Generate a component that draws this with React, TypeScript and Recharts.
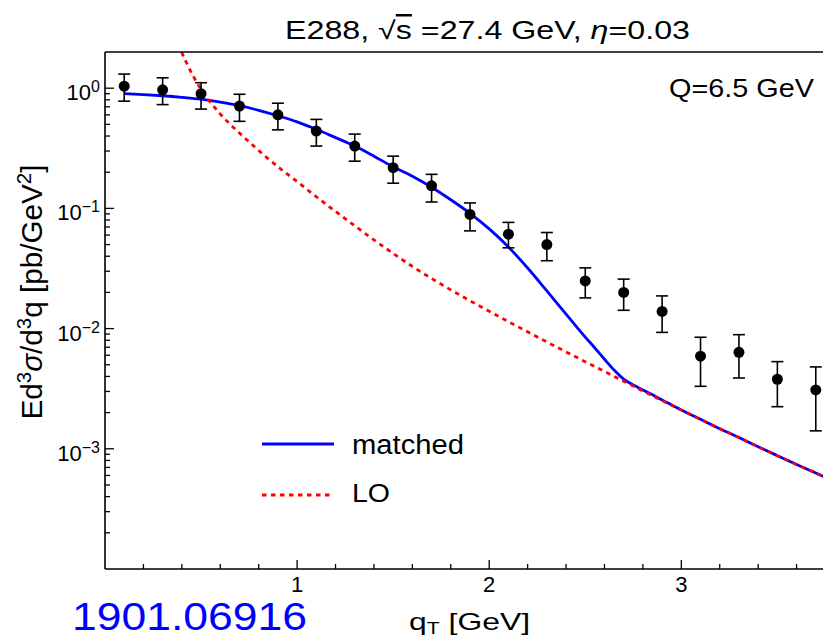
import { ComposedChart, Line, Scatter, ErrorBar, XAxis, YAxis } from 'recharts';

const FONT = '"Liberation Sans", Arial, Helvetica, sans-serif';

// E288 data points (qT in GeV)
const dataQ = [0.1, 0.3, 0.5, 0.7, 0.9, 1.1, 1.3, 1.5, 1.7, 1.9, 2.1, 2.3, 2.5, 2.7, 2.9, 3.1, 3.3, 3.5, 3.7];
const dataY = [1.04, 0.97, 0.9, 0.71, 0.6, 0.44, 0.33, 0.218, 0.154, 0.089, 0.061, 0.05, 0.0249, 0.02, 0.0139, 0.00589, 0.00635, 0.00379, 0.00309];
const dataHi = [1.31, 1.22, 1.11, 0.89, 0.75, 0.55, 0.415, 0.272, 0.192, 0.111, 0.0765, 0.063, 0.032, 0.0258, 0.0187, 0.00847, 0.0089, 0.00531, 0.0048];
const dataLo = [0.78, 0.73, 0.67, 0.53, 0.45, 0.33, 0.247, 0.162, 0.113, 0.065, 0.047, 0.0367, 0.018, 0.0142, 0.0093, 0.00331, 0.00388, 0.00224, 0.00141];

// matched curve
const matchedQ = [0.1, 0.2, 0.3, 0.4, 0.5, 0.6, 0.7, 0.8, 0.9, 1.0, 1.1, 1.2, 1.3, 1.4, 1.5, 1.6, 1.7, 1.8, 1.9, 2.0, 2.1, 2.2, 2.3, 2.4, 2.5, 2.55, 2.6, 2.65, 2.7, 2.75, 2.8, 2.85, 2.9, 3.0, 3.1, 3.2, 3.3, 3.4, 3.5, 3.6, 3.7, 3.8];
const matchedY = [0.9, 0.885, 0.865, 0.84, 0.81, 0.765, 0.715, 0.655, 0.59, 0.525, 0.455, 0.388, 0.33, 0.272, 0.222, 0.185, 0.15, 0.118, 0.091, 0.0675, 0.0478, 0.0319, 0.0206, 0.0132, 0.0085, 0.0069, 0.00556, 0.00452, 0.0038, 0.00339, 0.00309, 0.00281, 0.00255, 0.0021, 0.00176, 0.00147, 0.00124, 0.00104, 0.000877, 0.000741, 0.000628, 0.000533];

// LO curve
const loQ = [0.38, 0.42, 0.46, 0.5, 0.55, 0.6, 0.65, 0.7, 0.8, 0.9, 1.0, 1.1, 1.2, 1.3, 1.4, 1.5, 1.6, 1.7, 1.8, 1.9, 2.0, 2.1, 2.2, 2.3, 2.4, 2.5, 2.6, 2.7, 2.8, 2.9, 3.0, 3.1, 3.2, 3.3, 3.4, 3.5, 3.6, 3.7, 3.8];
const loY = [2.34, 1.68, 1.253, 0.977, 0.759, 0.61, 0.504, 0.424, 0.303, 0.222, 0.167, 0.125, 0.0944, 0.0716, 0.0547, 0.0422, 0.0329, 0.0261, 0.021, 0.01706, 0.01393, 0.01143, 0.0094, 0.00774, 0.0064, 0.0053, 0.0044, 0.00365, 0.00303, 0.00252, 0.0021, 0.00176, 0.00147, 0.00124, 0.00104, 0.000877, 0.000741, 0.000628, 0.000533];

const xTicks = [0.2, 0.4, 0.6, 0.8, 1, 1.2, 1.4, 1.6, 1.8, 2, 2.2, 2.4, 2.6, 2.8, 3, 3.2, 3.4, 3.6];
const yTicks = [
  0.0002, 0.0003, 0.0004, 0.0005, 0.0006, 0.0007, 0.0008, 0.0009,
  0.001, 0.002, 0.003, 0.004, 0.005, 0.006, 0.007, 0.008, 0.009,
  0.01, 0.02, 0.03, 0.04, 0.05, 0.06, 0.07, 0.08, 0.09,
  0.1, 0.2, 0.3, 0.4, 0.5, 0.6, 0.7, 0.8, 0.9,
  1,
];

const points = dataQ.map((q, i) => ({ q, y: dataY[i], err: [dataY[i] - dataLo[i], dataHi[i] - dataY[i]] }));
const matched = matchedQ.map((q, i) => ({ q, y: matchedY[i] }));
const lo = loQ.map((q, i) => ({ q, y: loY[i] }));

const isMajorX = (v: number) => Math.abs(v - Math.round(v)) < 1e-6;
const isMajorY = (v: number) => {
  const l = Math.log10(v);
  return Math.abs(l - Math.round(l)) < 1e-6;
};

const BottomTick = (props: any) => {
  const { x, y, payload } = props;
  const major = isMajorX(payload.value);
  return (
    <g>
      <line x1={x} x2={x} y1={y} y2={y - (major ? 9 : 5)} stroke="#000" strokeWidth={1.3} />
      {major && (
        <text x={x} y={y + 23} textAnchor="middle" fontSize={22} fontFamily={FONT} fill="#000">
          {payload.value}
        </text>
      )}
    </g>
  );
};

const TopTick = (props: any) => {
  const { x, y, payload } = props;
  const major = isMajorX(payload.value);
  return <line x1={x} x2={x} y1={y} y2={y + (major ? 9 : 5)} stroke="#000" strokeWidth={1.3} />;
};

const LeftTick = (props: any) => {
  const { x, y, payload } = props;
  const major = isMajorY(payload.value);
  const exp = Math.round(Math.log10(payload.value));
  return (
    <g>
      <line x1={x} x2={x + (major ? 9 : 5)} y1={y} y2={y} stroke="#000" strokeWidth={1.3} />
      {major && (
        <text x={x - 5} y={y + 12} textAnchor="end" fontSize={22} fontFamily={FONT} fill="#000">
          10
          <tspan dy={-8} fontSize={16}>
            {exp < 0 ? `\u2212${-exp}` : exp}
          </tspan>
        </text>
      )}
    </g>
  );
};

const RightTick = (props: any) => {
  const { x, y, payload } = props;
  const major = isMajorY(payload.value);
  return <line x1={x} x2={x - (major ? 9 : 5)} y1={y} y2={y} stroke="#000" strokeWidth={1.3} />;
};

const axisLine = { stroke: '#000', strokeWidth: 1.6 };

export default function App() {
  return (
    <div style={{ position: 'relative', width: 823, height: 632, overflow: 'hidden', background: '#fff' }}>
      <ComposedChart width={837} height={632} margin={{ top: 0, right: 0, bottom: 0, left: 0 }}>
        <XAxis
          xAxisId="b"
          dataKey="q"
          type="number"
          domain={[0, 3.8]}
          allowDataOverflow
          ticks={xTicks}
          interval={0}
          tickSize={0}
          tickMargin={0}
          tickLine={false}
          tick={BottomTick}
          height={71}
          axisLine={axisLine}
        />
        <XAxis
          xAxisId="t"
          orientation="top"
          type="number"
          domain={[0, 3.8]}
          allowDataOverflow
          ticks={xTicks}
          interval={0}
          tickSize={0}
          tickMargin={0}
          tickLine={false}
          tick={TopTick}
          height={44}
          axisLine={axisLine}
        />
        <YAxis
          yAxisId="l"
          type="number"
          scale="log"
          domain={[0.0001, 2]}
          allowDataOverflow
          ticks={yTicks}
          interval={0}
          tickSize={0}
          tickMargin={0}
          tickLine={false}
          tick={LeftTick}
          width={97}
          axisLine={axisLine}
        />
        <YAxis
          yAxisId="r"
          orientation="right"
          type="number"
          scale="log"
          domain={[0.0001, 2]}
          allowDataOverflow
          ticks={yTicks}
          interval={0}
          tickSize={0}
          tickMargin={0}
          tickLine={false}
          tick={RightTick}
          width={10}
          axisLine={axisLine}
        />
        <Line
          xAxisId="b"
          yAxisId="l"
          data={matched}
          dataKey="y"
          type="monotone"
          stroke="#0000ff"
          strokeWidth={2.8}
          dot={false}
          isAnimationActive={false}
        />
        <Line
          xAxisId="b"
          yAxisId="l"
          data={lo}
          dataKey="y"
          type="monotone"
          stroke="#ff0000"
          strokeWidth={2.8}
          strokeDasharray="4.5 4.5"
          dot={false}
          isAnimationActive={false}
        />
        <Scatter
          xAxisId="b"
          yAxisId="l"
          data={points}
          dataKey="y"
          isAnimationActive={false}
          shape={(p: any) => <circle cx={p.cx} cy={p.cy} r={5.5} fill="#000" />}
        >
          <ErrorBar dataKey="err" direction="y" width={6} stroke="#000" strokeWidth={1.6} isAnimationActive={false} />
        </Scatter>
      </ComposedChart>

      <svg
        width={823}
        height={632}
        style={{ position: 'absolute', left: 0, top: 0, pointerEvents: 'none' }}
        fontFamily={FONT}
      >
        <text x={277} y={31} fontSize={25} textLength={405} lengthAdjust="spacingAndGlyphs" fill="#000">
          E288,{'  '}√<tspan style={{ textDecoration: 'overline' }}>s</tspan> =27.4 GeV,{'  '}
          <tspan fontStyle="italic">η</tspan>=0.03
        </text>
        <text x={661} y={89} fontSize={25} textLength={145} lengthAdjust="spacingAndGlyphs" fill="#000">
          Q=6.5 GeV
        </text>
        <text
          transform="translate(34,284) rotate(-90)"
          x={0}
          y={0}
          textAnchor="middle"
          fontSize={29}
          textLength={255}
          lengthAdjust="spacingAndGlyphs"
          fill="#000"
        >
          Ed<tspan dy={-11} fontSize={20}>3</tspan>
          <tspan dy={11} fontStyle="italic">σ</tspan>/d<tspan dy={-11} fontSize={20}>3</tspan>
          <tspan dy={11}>q{'  '}[pb/GeV</tspan>
          <tspan dy={-11} fontSize={20}>2</tspan>
          <tspan dy={11}>]</tspan>
        </text>
        <text x={401} y={622} fontSize={24} textLength={121} lengthAdjust="spacingAndGlyphs" fill="#000">
          q<tspan dy={4} fontSize={16}>T</tspan>
          <tspan dy={-4}>{'  '}[GeV]</tspan>
        </text>
        <line x1={254} x2={326} y1={436} y2={436} stroke="#0000ff" strokeWidth={2.8} />
        <text x={344} y={446} fontSize={27} textLength={112} lengthAdjust="spacingAndGlyphs" fill="#000">
          matched
        </text>
        <line x1={254} x2={326} y1={487} y2={487} stroke="#ff0000" strokeWidth={2.8} strokeDasharray="4.5 4.5" />
        <text x={344} y={494} fontSize={26} textLength={38} lengthAdjust="spacingAndGlyphs" fill="#000">
          LO
        </text>
        <text x={64} y={622} fontSize={38} textLength={235} lengthAdjust="spacingAndGlyphs" fill="#0000ff">
          1901.06916
        </text>
      </svg>
    </div>
  );
}
